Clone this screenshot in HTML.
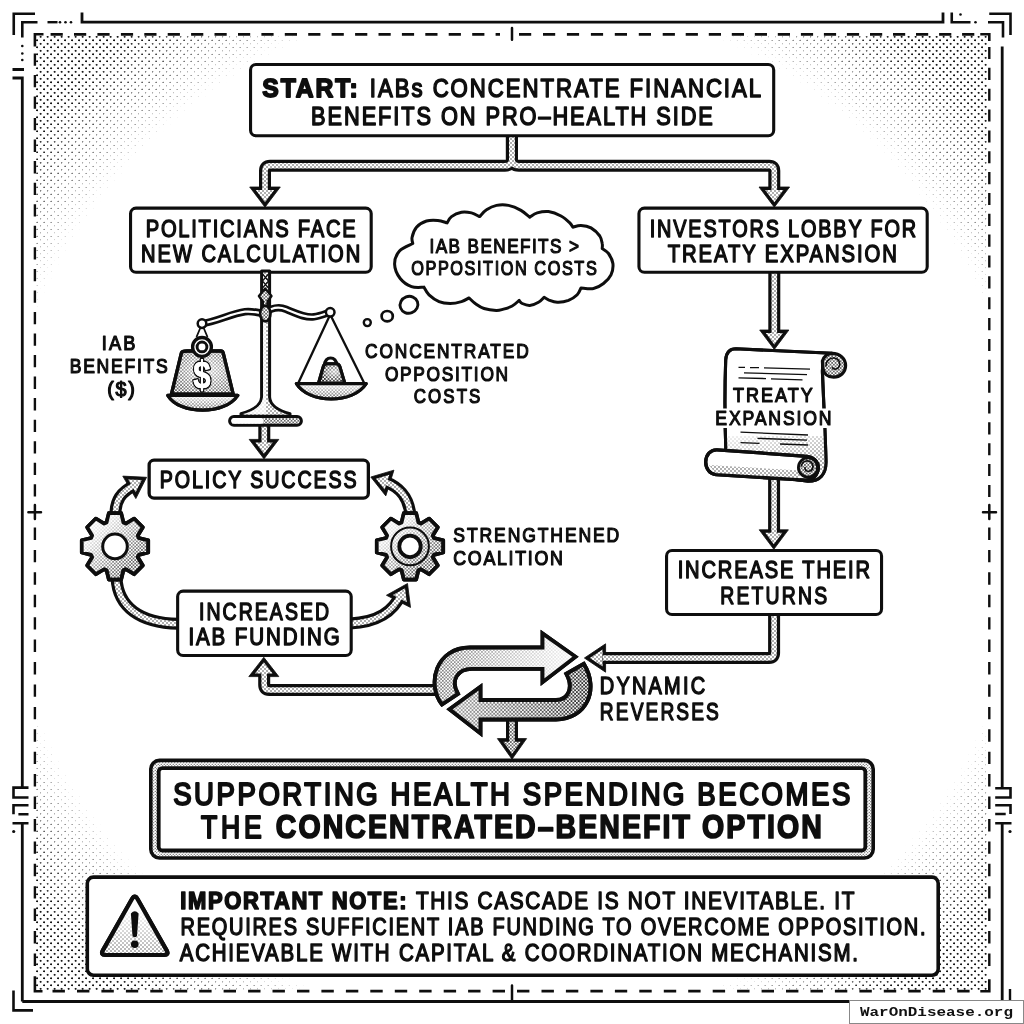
<!DOCTYPE html>
<html><head><meta charset="utf-8"><title>IAB cascade</title>
<style>html,body{margin:0;padding:0;background:#fff;}svg{display:block;}</style></head>
<body>
<svg width="1024" height="1024" viewBox="0 0 1024 1024">
<rect width="1024" height="1024" fill="#fff"/>
<defs>
<radialGradient id="wgl" cx="0.55" cy="0.45" r="0.6"><stop offset="0" stop-color="#fff" stop-opacity="0.75"/><stop offset="1" stop-color="#fff" stop-opacity="0"/></radialGradient>
<radialGradient id="wgr" cx="0.6" cy="0.4" r="0.6"><stop offset="0" stop-color="#fff" stop-opacity="0.75"/><stop offset="1" stop-color="#fff" stop-opacity="0"/></radialGradient>
<linearGradient id="sfade" x1="0" y1="0" x2="0.4" y2="1"><stop offset="0" stop-color="#fff" stop-opacity="1"/><stop offset="1" stop-color="#fff" stop-opacity="0"/></linearGradient>
<linearGradient id="tfade" x1="0" y1="0" x2="0" y2="1"><stop offset="0.2" stop-color="#fff" stop-opacity="1"/><stop offset="1" stop-color="#fff" stop-opacity="0"/></linearGradient>
</defs>

<defs>
<radialGradient id="cone"><stop offset="0" stop-color="#111" stop-opacity="1"/><stop offset="1" stop-color="#111" stop-opacity="0"/></radialGradient>
<pattern id="ht" width="7" height="7" patternUnits="userSpaceOnUse" patternTransform="translate(5.6,1.8)">
  <circle cx="0" cy="0" r="2.45" fill="url(#cone)"/><circle cx="7" cy="0" r="2.45" fill="url(#cone)"/><circle cx="0" cy="7" r="2.45" fill="url(#cone)"/><circle cx="7" cy="7" r="2.45" fill="url(#cone)"/><circle cx="3.5" cy="3.5" r="2.45" fill="url(#cone)"/>
</pattern>
<filter id="thr" filterUnits="userSpaceOnUse" x="0" y="0" width="1024" height="1024" color-interpolation-filters="sRGB">
  <feComponentTransfer><feFuncA type="linear" slope="3.2" intercept="-1.3"/></feComponentTransfer>
</filter>
<radialGradient id="vg" gradientUnits="userSpaceOnUse" cx="512" cy="512" r="680">
  <stop offset="0" stop-color="#000"/><stop offset="0.745" stop-color="#000"/><stop offset="0.746" stop-color="#707070"/><stop offset="0.765" stop-color="#929292"/><stop offset="0.785" stop-color="#a8a8a8"/><stop offset="0.822" stop-color="#c2c2c2"/><stop offset="0.869" stop-color="#e4e4e4"/><stop offset="0.905" stop-color="#fff"/><stop offset="1" stop-color="#fff"/>
</radialGradient>
<mask id="vm" maskUnits="userSpaceOnUse" x="0" y="0" width="1024" height="1024"><rect x="36" y="35.5" width="952.3" height="954.7" fill="url(#vg)"/></mask>
<pattern id="pl" width="4" height="4" patternUnits="userSpaceOnUse">
  <rect width="4" height="4" fill="#fff"/><circle cx="1" cy="1" r="0.68" fill="#222"/><circle cx="3" cy="3" r="0.68" fill="#222"/>
</pattern>
<pattern id="pm" width="3.4" height="3.4" patternUnits="userSpaceOnUse">
  <rect width="3.4" height="3.4" fill="#fff"/><circle cx="0.85" cy="0.85" r="0.75" fill="#1a1a1a"/><circle cx="2.55" cy="2.55" r="0.75" fill="#1a1a1a"/>
</pattern>
<pattern id="pd" width="3.6" height="3.6" patternUnits="userSpaceOnUse">
  <rect width="3.6" height="3.6" fill="#fff"/><circle cx="0.9" cy="0.9" r="1.05" fill="#151515"/><circle cx="2.7" cy="2.7" r="1.05" fill="#151515"/>
</pattern>
<pattern id="pb" width="3" height="3" patternUnits="userSpaceOnUse">
  <rect width="3" height="3" fill="#fff"/><circle cx="0.75" cy="0.75" r="0.6" fill="#333"/><circle cx="2.25" cy="2.25" r="0.6" fill="#333"/>
</pattern>
<linearGradient id="ufade" gradientUnits="userSpaceOnUse" x1="434" y1="0" x2="578" y2="0"><stop offset="0" stop-color="#fff" stop-opacity="0.15"/><stop offset="0.45" stop-color="#fff" stop-opacity="0.55"/><stop offset="1" stop-color="#fff" stop-opacity="0.95"/></linearGradient>
<linearGradient id="lfade" gradientUnits="userSpaceOnUse" x1="448" y1="0" x2="592" y2="0"><stop offset="0" stop-color="#fff" stop-opacity="0.6"/><stop offset="0.6" stop-color="#fff" stop-opacity="0.3"/><stop offset="1" stop-color="#fff" stop-opacity="0.05"/></linearGradient>
<linearGradient id="gfade" x1="0" y1="0" x2="1" y2="1"><stop offset="0" stop-color="#fff" stop-opacity="1"/><stop offset="0.25" stop-color="#fff" stop-opacity="0.85"/><stop offset="0.75" stop-color="#fff" stop-opacity="0"/></linearGradient>
<linearGradient id="vfade" x1="0" y1="0" x2="0" y2="1"><stop offset="0" stop-color="#fff" stop-opacity="0.9"/><stop offset="1" stop-color="#fff" stop-opacity="0"/></linearGradient>
</defs>

<g filter="url(#thr)"><rect x="36" y="35.5" width="952.3" height="954.7" fill="url(#ht)" mask="url(#vm)"/></g>
<path d="M82 12.5 V22.2 H943 V12.5 M22.3 1001.5 V823.3 M22.3 787.5 V78 H12.5 M12.5 69.5 H24 M22.3 1001.5 H850 M1002.2 1000 V823.3 M1002.2 787.5 V46.5" stroke="#0e0e0e" fill="none" stroke-width="2.8"/>
<path d="M35 13.75 H13.75 V35 M37.5 22.2 H22.3 V37.5" stroke="#0e0e0e" fill="none" stroke-width="2.6"/>
<path d="M47.5 22.2 H57.5" stroke="#0e0e0e" fill="none" stroke-width="2.4"/>
<circle cx="60" cy="22.2" r="1.3" fill="#0e0e0e"/>
<circle cx="65.5" cy="22.2" r="1.3" fill="#0e0e0e"/>
<circle cx="71" cy="22.2" r="1.3" fill="#0e0e0e"/>
<circle cx="22.3" cy="46" r="1.3" fill="#0e0e0e"/>
<circle cx="22.3" cy="53.5" r="1.3" fill="#0e0e0e"/>
<circle cx="22.3" cy="60" r="1.3" fill="#0e0e0e"/>
<path d="M951.75 12.5 V22.2 H970.5 M988 22.2 H1003.0 V37.5 M989.25 13.75 H1010.5 V35" stroke="#0e0e0e" fill="none" stroke-width="2.6"/>
<circle cx="960.5" cy="14.5" r="1.3" fill="#0e0e0e"/><circle cx="975.5" cy="22.2" r="1.3" fill="#0e0e0e"/>
<path d="M13.5 990.4 V1010.4 H33" stroke="#0e0e0e" fill="none" stroke-width="2.6"/>
<path d="M1010 989 V1001" stroke="#0e0e0e" fill="none" stroke-width="2.4"/>
<path d="M28.5 787.6 H13.5 V797.5 H28.5 M28.5 805.3 H13.5 V814.3 M18.4 814.3 H28.5 M12.5 823.3 H28.5" stroke="#0e0e0e" fill="none" stroke-width="2.6"/>
<circle cx="13.7" cy="831.5" r="1.6" fill="#0e0e0e"/>
<path d="M995.2 788.2 H1010.5 V797.5 H995.2 M995.2 805.3 H1010.5 V814 M995.2 814 H1005.7 M995.2 823.3 H1011.5" stroke="#0e0e0e" fill="none" stroke-width="2.6"/>
<circle cx="1010" cy="831.5" r="1.6" fill="#0e0e0e"/>
<path d="M50.6 34.3 H62.8 M74.0 34.3 H86.2 M97.4 34.3 H109.6 M120.9 34.3 H133.1 M144.3 34.3 H156.5 M167.7 34.3 H179.9 M191.1 34.3 H203.3 M214.5 34.3 H226.7 M238.0 34.3 H250.2 M261.4 34.3 H273.6 M284.8 34.3 H297.0 M308.2 34.3 H320.4 M331.6 34.3 H343.8 M355.1 34.3 H367.3 M378.5 34.3 H390.7 M401.9 34.3 H414.1 M425.3 34.3 H437.5 M448.7 34.3 H460.9 M472.2 34.3 H484.4 M495.6 34.3 H500.0" stroke="#0e0e0e" fill="none" stroke-width="2.8"/>
<path d="M519.0 34.3 H531.2 M543.0 34.3 H555.2 M566.9 34.3 H579.1 M590.9 34.3 H603.1 M614.8 34.3 H627.0 M638.8 34.3 H651.0" stroke="#0e0e0e" fill="none" stroke-width="2.8"/>
<path d="M662.7 34.3 H674.9 M685.7 34.3 H697.9 M708.8 34.3 H721.0 M731.8 34.3 H744.0 M754.8 34.3 H767.0 M777.8 34.3 H790.0 M800.9 34.3 H813.1 M823.9 34.3 H836.1 M846.9 34.3 H859.1 M870.0 34.3 H882.2 M893.0 34.3 H905.2 M916.0 34.3 H928.2 M939.1 34.3 H951.3 M962.1 34.3 H974.3" stroke="#0e0e0e" fill="none" stroke-width="2.8"/>
<path d="M52.5 991.2 H64.9 M77.0 991.2 H89.4 M101.4 991.2 H113.8 M125.9 991.2 H138.2 M150.3 991.2 H162.7 M174.8 991.2 H187.2 M199.2 991.2 H211.6 M223.6 991.2 H236.0 M248.1 991.2 H260.5 M272.5 991.2 H284.9 M297.0 991.2 H309.4 M321.4 991.2 H333.8 M345.9 991.2 H358.3 M370.3 991.2 H382.7 M394.8 991.2 H407.2 M419.2 991.2 H431.6 M443.7 991.2 H456.1 M468.1 991.2 H480.5 M492.6 991.2 H505.0 M517.0 991.2 H529.4 M541.5 991.2 H553.9 M565.9 991.2 H578.3 M590.4 991.2 H602.8 M614.9 991.2 H627.2 M639.3 991.2 H651.7 M663.8 991.2 H676.2 M688.2 991.2 H700.6 M712.7 991.2 H725.1 M737.1 991.2 H749.5 M761.6 991.2 H774.0 M786.0 991.2 H798.4 M810.5 991.2 H822.9 M834.9 991.2 H847.3 M859.4 991.2 H871.8 M883.8 991.2 H896.2 M908.3 991.2 H920.7 M932.7 991.2 H945.1 M957.2 991.2 H969.6" stroke="#0e0e0e" fill="none" stroke-width="2.8"/>
<path d="M34.9 53.4 V65.7 M34.9 74.9 V87.2 M34.9 96.5 V108.8 M34.9 118.0 V130.3 M34.9 139.6 V151.9 M34.9 161.1 V173.4 M34.9 182.7 V195.0 M34.9 204.2 V216.5 M34.9 225.8 V238.1 M34.9 247.3 V259.6 M34.9 268.9 V281.2 M34.9 290.4 V302.7 M34.9 311.9 V324.2 M34.9 333.5 V345.8 M34.9 355.0 V367.3 M34.9 376.6 V388.9 M34.9 398.1 V410.4 M34.9 419.7 V432.0 M34.9 441.2 V453.5 M34.9 462.8 V475.1 M34.9 484.3 V496.6" stroke="#0e0e0e" fill="none" stroke-width="2.4"/>
<path d="M989.3 47.0 V59.1 M989.3 67.8 V79.9 M989.3 88.7 V100.8 M989.3 109.5 V121.6 M989.3 130.4 V142.5 M989.3 151.2 V163.3 M989.3 172.1 V184.2 M989.3 192.9 V205.0 M989.3 213.8 V225.9 M989.3 234.6 V246.7 M989.3 255.5 V267.6 M989.3 276.3 V288.4 M989.3 297.2 V309.3 M989.3 318.1 V330.2 M989.3 338.9 V351.0 M989.3 359.8 V371.9 M989.3 380.6 V392.7 M989.3 401.5 V413.6 M989.3 422.3 V434.4 M989.3 443.2 V455.3 M989.3 464.0 V476.1 M989.3 484.9 V497.0" stroke="#0e0e0e" fill="none" stroke-width="2.4"/>
<path d="M34.9 527.5 V539.9 M34.9 549.9 V562.3 M34.9 572.3 V584.7 M34.9 594.8 V607.2 M34.9 617.2 V629.6 M34.9 639.6 V652.0 M34.9 662.0 V674.4 M34.9 684.4 V696.8 M34.9 706.9 V719.3 M34.9 729.3 V741.7 M34.9 751.7 V764.1 M34.9 774.1 V786.5 M34.9 796.5 V808.9 M34.9 819.0 V831.4 M34.9 841.4 V853.8 M34.9 863.8 V876.2 M34.9 886.2 V898.6 M34.9 908.6 V921.0 M34.9 931.1 V943.5 M34.9 953.5 V965.9" stroke="#0e0e0e" fill="none" stroke-width="2.4"/>
<path d="M989.3 527.5 V539.9 M989.3 549.9 V562.3 M989.3 572.3 V584.7 M989.3 594.8 V607.2 M989.3 617.2 V629.6 M989.3 639.6 V652.0 M989.3 662.0 V674.4 M989.3 684.4 V696.8 M989.3 706.9 V719.3 M989.3 729.3 V741.7 M989.3 751.7 V764.1 M989.3 774.1 V786.5 M989.3 796.5 V808.9 M989.3 819.0 V831.4 M989.3 841.4 V853.8 M989.3 863.8 V876.2 M989.3 886.2 V898.6 M989.3 908.6 V921.0 M989.3 931.1 V943.5 M989.3 953.5 V965.9" stroke="#0e0e0e" fill="none" stroke-width="2.4"/>
<path d="M34.9 46.5 V34.3 H43.5 M980.3 34.3 H989.3 V41 M34.9 976.2 V991.2 H42.5 M980.3 991.2 H989.3 V979.2" stroke="#0e0e0e" fill="none" stroke-width="2.6"/>
<path d="M512 28 V39.75 M512 985.5 V1000 M34.9 505 V519 M28.4 512.2 H41 M989.3 505 V519 M983 512.2 H996" stroke="#0e0e0e" fill="none" stroke-width="2.5" stroke-linecap="round"/>
<path d="M511.9 134 V158.8 Q511.9 165.8 504.9 165.8 H270 Q265 165.8 265 170.8 V193.5" fill="none" stroke="#0e0e0e" stroke-width="12" stroke-linejoin="round" stroke-linecap="butt"/>
<path d="M511.9 134 V158.8 Q511.9 165.8 518.9 165.8 H769.3 Q774.3 165.8 774.3 170.8 V193.5" fill="none" stroke="#0e0e0e" stroke-width="12" stroke-linejoin="round" stroke-linecap="butt"/>
<polygon points="265.00,207.20 249.70,187.00 280.30,187.00" fill="#0e0e0e" stroke="#0e0e0e" stroke-width="0.8" stroke-linejoin="round"/>
<polygon points="774.30,207.20 759.00,187.00 789.60,187.00" fill="#0e0e0e" stroke="#0e0e0e" stroke-width="0.8" stroke-linejoin="round"/>
<path d="M264.3 422 V446" fill="none" stroke="#0e0e0e" stroke-width="12" stroke-linejoin="round" stroke-linecap="butt"/>
<polygon points="264.00,458.90 249.20,439.40 278.80,439.40" fill="#0e0e0e" stroke="#0e0e0e" stroke-width="0.8" stroke-linejoin="round"/>
<path d="M774.3 270 V337" fill="none" stroke="#0e0e0e" stroke-width="12" stroke-linejoin="round" stroke-linecap="butt"/>
<polygon points="774.30,349.50 759.70,330.00 788.90,330.00" fill="#0e0e0e" stroke="#0e0e0e" stroke-width="0.8" stroke-linejoin="round"/>
<path d="M774.1 478 V536.5" fill="none" stroke="#0e0e0e" stroke-width="12" stroke-linejoin="round" stroke-linecap="butt"/>
<polygon points="773.80,549.30 759.20,529.80 788.40,529.80" fill="#0e0e0e" stroke="#0e0e0e" stroke-width="0.8" stroke-linejoin="round"/>
<path d="M774.1 612 V653 Q774.1 658 769.1 658 H603" fill="none" stroke="#0e0e0e" stroke-width="12" stroke-linejoin="round" stroke-linecap="butt"/>
<polygon points="584.40,658.00 605.60,643.80 605.60,672.20" fill="#0e0e0e" stroke="#0e0e0e" stroke-width="0.8" stroke-linejoin="round"/>
<path d="M445 690 H269.2 Q264.2 690 264.2 685 V669.5" fill="none" stroke="#0e0e0e" stroke-width="12" stroke-linejoin="round" stroke-linecap="butt"/>
<polygon points="263.80,657.30 278.80,676.60 248.80,676.60" fill="#0e0e0e" stroke="#0e0e0e" stroke-width="0.8" stroke-linejoin="round"/>
<path d="M512 715 V745.5" fill="none" stroke="#0e0e0e" stroke-width="12" stroke-linejoin="round" stroke-linecap="butt"/>
<polygon points="512.00,759.20 497.40,738.60 526.60,738.60" fill="#0e0e0e" stroke="#0e0e0e" stroke-width="0.8" stroke-linejoin="round"/>
<path d="M115.5 516 C115 500 121 492 134.5 485.3" fill="none" stroke="#0e0e0e" stroke-width="12" stroke-linejoin="round" stroke-linecap="butt"/>
<polygon points="146.60,477.30 135.84,498.59 122.78,476.11" fill="#0e0e0e" stroke="#0e0e0e" stroke-width="0.8" stroke-linejoin="round"/>
<path d="M178 623.8 C140 623 118 607 116.5 578" fill="none" stroke="#0e0e0e" stroke-width="12" stroke-linejoin="round" stroke-linecap="butt"/>
<path d="M410.5 516 C409 498 401 488 385.5 481.8" fill="none" stroke="#0e0e0e" stroke-width="12" stroke-linejoin="round" stroke-linecap="butt"/>
<polygon points="370.80,477.00 393.94,470.15 385.81,495.90" fill="#0e0e0e" stroke="#0e0e0e" stroke-width="0.8" stroke-linejoin="round"/>
<path d="M350 623.6 C378 622 393 612 400.8 594.5" fill="none" stroke="#0e0e0e" stroke-width="12" stroke-linejoin="round" stroke-linecap="butt"/>
<polygon points="407.50,583.50 410.52,607.44 386.43,595.26" fill="#0e0e0e" stroke="#0e0e0e" stroke-width="0.8" stroke-linejoin="round"/>
<path d="M511.9 134 V158.8 Q511.9 165.8 504.9 165.8 H270 Q265 165.8 265 170.8 V193.5" fill="none" stroke="url(#pl)" stroke-width="5.6" stroke-linejoin="round" stroke-linecap="butt"/>
<path d="M511.9 134 V158.8 Q511.9 165.8 518.9 165.8 H769.3 Q774.3 165.8 774.3 170.8 V193.5" fill="none" stroke="url(#pl)" stroke-width="5.6" stroke-linejoin="round" stroke-linecap="butt"/>
<polygon points="265.00,202.17 255.82,190.04 274.18,190.04" fill="url(#pl)"/>
<polygon points="774.30,202.17 765.12,190.04 783.48,190.04" fill="url(#pl)"/>
<path d="M264.3 422 V446" fill="none" stroke="url(#pl)" stroke-width="5.6" stroke-linejoin="round" stroke-linecap="butt"/>
<polygon points="264.00,453.87 255.32,442.44 272.68,442.44" fill="url(#pl)"/>
<path d="M774.3 270 V337" fill="none" stroke="url(#pl)" stroke-width="5.6" stroke-linejoin="round" stroke-linecap="butt"/>
<polygon points="774.30,344.43 765.77,333.04 782.83,333.04" fill="url(#pl)"/>
<path d="M774.1 478 V536.5" fill="none" stroke="url(#pl)" stroke-width="5.6" stroke-linejoin="round" stroke-linecap="butt"/>
<polygon points="773.80,544.23 765.27,532.84 782.33,532.84" fill="url(#pl)"/>
<path d="M774.1 612 V653 Q774.1 658 769.1 658 H603" fill="none" stroke="url(#pl)" stroke-width="5.6" stroke-linejoin="round" stroke-linecap="butt"/>
<polygon points="589.86,658.00 602.56,649.50 602.56,666.50" fill="url(#pl)"/>
<path d="M445 690 H269.2 Q264.2 690 264.2 685 V669.5" fill="none" stroke="url(#pl)" stroke-width="5.6" stroke-linejoin="round" stroke-linecap="butt"/>
<polygon points="263.80,662.25 272.59,673.56 255.01,673.56" fill="url(#pl)"/>
<path d="M512 715 V745.5" fill="none" stroke="url(#pm)" stroke-width="5.6" stroke-linejoin="round" stroke-linecap="butt"/>
<polygon points="512.00,753.94 503.28,741.64 520.72,741.64" fill="url(#pm)"/>
<path d="M115.5 516 C115 500 121 492 134.5 485.3" fill="none" stroke="url(#pl)" stroke-width="5.6" stroke-linejoin="round" stroke-linecap="butt"/>
<polygon points="141.78,480.10 135.66,492.22 128.22,479.43" fill="url(#pl)"/>
<path d="M178 623.8 C140 623 118 607 116.5 578" fill="none" stroke="url(#pl)" stroke-width="5.6" stroke-linejoin="round" stroke-linecap="butt"/>
<path d="M410.5 516 C409 498 401 488 385.5 481.8" fill="none" stroke="url(#pl)" stroke-width="5.6" stroke-linejoin="round" stroke-linecap="butt"/>
<polygon points="375.98,478.64 389.32,474.69 384.63,489.53" fill="url(#pl)"/>
<path d="M350 623.6 C378 622 393 612 400.8 594.5" fill="none" stroke="url(#pl)" stroke-width="5.6" stroke-linejoin="round" stroke-linecap="butt"/>
<polygon points="405.05,588.35 406.79,602.15 392.90,595.12" fill="url(#pl)"/>
<path d="M575.5 656.8 L542.5 682.2 V668.8 H472 C458 668.8 450 680 458 693.8 L442 704.5 C426 684 436 647.5 470 647.5 H542.5 V633.4 Z" fill="url(#pm)" stroke="#0e0e0e" stroke-width="3.8" stroke-linejoin="miter"/>
<path d="M575.5 656.8 L542.5 682.2 V668.8 H472 C458 668.8 450 680 458 693.8 L442 704.5 C426 684 436 647.5 470 647.5 H542.5 V633.4 Z" fill="url(#ufade)"/>
<path d="M575.5 656.8 L542.5 682.2 V668.8 H472 C458 668.8 450 680 458 693.8 L442 704.5 C426 684 436 647.5 470 647.5 H542.5 V633.4 Z" fill="none" stroke="#0e0e0e" stroke-width="3.8" stroke-linejoin="miter"/>
<path d="M449.5 709.2 L480.5 686.8 V700 H556 C568 700 574 688 566.3 673.8 L583.8 663.8 C600 690 586 719.5 556 719.5 H480.5 V733.4 Z" fill="url(#pd)" stroke="#0e0e0e" stroke-width="3.8" stroke-linejoin="miter"/>
<path d="M449.5 709.2 L480.5 686.8 V700 H556 C568 700 574 688 566.3 673.8 L583.8 663.8 C600 690 586 719.5 556 719.5 H480.5 V733.4 Z" fill="url(#lfade)"/>
<path d="M449.5 709.2 L480.5 686.8 V700 H556 C568 700 574 688 566.3 673.8 L583.8 663.8 C600 690 586 719.5 556 719.5 H480.5 V733.4 Z" fill="none" stroke="#0e0e0e" stroke-width="3.8" stroke-linejoin="miter"/>
<polygon points="106.55,522.55 108.84,513.17 121.16,513.17 123.45,522.55 125.89,523.56 134.14,518.54 142.86,527.26 137.84,535.51 138.85,537.95 148.23,540.24 148.23,552.56 138.85,554.85 137.84,557.29 142.86,565.54 134.14,574.26 125.89,569.24 123.45,570.25 121.16,579.63 108.84,579.63 106.55,570.25 104.11,569.24 95.86,574.26 87.14,565.54 92.16,557.29 91.15,554.85 81.77,552.56 81.77,540.24 91.15,537.95 92.16,535.51 87.14,527.26 95.86,518.54 104.11,523.56" fill="url(#pm)" stroke="#0e0e0e" stroke-width="3.7" stroke-linejoin="round"/>
<polygon points="106.55,522.55 108.84,513.17 121.16,513.17 123.45,522.55 125.89,523.56 134.14,518.54 142.86,527.26 137.84,535.51 138.85,537.95 148.23,540.24 148.23,552.56 138.85,554.85 137.84,557.29 142.86,565.54 134.14,574.26 125.89,569.24 123.45,570.25 121.16,579.63 108.84,579.63 106.55,570.25 104.11,569.24 95.86,574.26 87.14,565.54 92.16,557.29 91.15,554.85 81.77,552.56 81.77,540.24 91.15,537.95 92.16,535.51 87.14,527.26 95.86,518.54 104.11,523.56" fill="url(#gfade)" />
<polygon points="106.55,522.55 108.84,513.17 121.16,513.17 123.45,522.55 125.89,523.56 134.14,518.54 142.86,527.26 137.84,535.51 138.85,537.95 148.23,540.24 148.23,552.56 138.85,554.85 137.84,557.29 142.86,565.54 134.14,574.26 125.89,569.24 123.45,570.25 121.16,579.63 108.84,579.63 106.55,570.25 104.11,569.24 95.86,574.26 87.14,565.54 92.16,557.29 91.15,554.85 81.77,552.56 81.77,540.24 91.15,537.95 92.16,535.51 87.14,527.26 95.86,518.54 104.11,523.56" fill="none" stroke="#0e0e0e" stroke-width="3.7" stroke-linejoin="round"/>
<polygon points="401.55,522.55 403.84,513.17 416.16,513.17 418.45,522.55 420.89,523.56 429.14,518.54 437.86,527.26 432.84,535.51 433.85,537.95 443.23,540.24 443.23,552.56 433.85,554.85 432.84,557.29 437.86,565.54 429.14,574.26 420.89,569.24 418.45,570.25 416.16,579.63 403.84,579.63 401.55,570.25 399.11,569.24 390.86,574.26 382.14,565.54 387.16,557.29 386.15,554.85 376.77,552.56 376.77,540.24 386.15,537.95 387.16,535.51 382.14,527.26 390.86,518.54 399.11,523.56" fill="url(#pm)" stroke="#0e0e0e" stroke-width="3.7" stroke-linejoin="round"/>
<polygon points="401.55,522.55 403.84,513.17 416.16,513.17 418.45,522.55 420.89,523.56 429.14,518.54 437.86,527.26 432.84,535.51 433.85,537.95 443.23,540.24 443.23,552.56 433.85,554.85 432.84,557.29 437.86,565.54 429.14,574.26 420.89,569.24 418.45,570.25 416.16,579.63 403.84,579.63 401.55,570.25 399.11,569.24 390.86,574.26 382.14,565.54 387.16,557.29 386.15,554.85 376.77,552.56 376.77,540.24 386.15,537.95 387.16,535.51 382.14,527.26 390.86,518.54 399.11,523.56" fill="url(#gfade)" />
<polygon points="401.55,522.55 403.84,513.17 416.16,513.17 418.45,522.55 420.89,523.56 429.14,518.54 437.86,527.26 432.84,535.51 433.85,537.95 443.23,540.24 443.23,552.56 433.85,554.85 432.84,557.29 437.86,565.54 429.14,574.26 420.89,569.24 418.45,570.25 416.16,579.63 403.84,579.63 401.55,570.25 399.11,569.24 390.86,574.26 382.14,565.54 387.16,557.29 386.15,554.85 376.77,552.56 376.77,540.24 386.15,537.95 387.16,535.51 382.14,527.26 390.86,518.54 399.11,523.56" fill="none" stroke="#0e0e0e" stroke-width="3.7" stroke-linejoin="round"/>
<circle cx="115" cy="546.4" r="12.3" fill="#fff" stroke="#0e0e0e" stroke-width="3"/>
<circle cx="410" cy="546.4" r="18.9" fill="none" stroke="#0e0e0e" stroke-width="2"/>
<circle cx="410" cy="546.4" r="10.7" fill="#fff" stroke="#0e0e0e" stroke-width="3.8"/>
<rect x="250.55" y="64.45" width="523.15" height="71.25" rx="5.45" fill="#fff" stroke="#0e0e0e" stroke-width="3.1"/>
<rect x="130.55" y="208.15" width="240.65" height="64.05" rx="5.45" fill="#fff" stroke="#0e0e0e" stroke-width="3.1"/>
<rect x="638.95" y="208.15" width="288.25" height="64.05" rx="5.45" fill="#fff" stroke="#0e0e0e" stroke-width="3.1"/>
<rect x="149.15" y="460.15" width="219.20" height="37.95" rx="4.85" fill="#fff" stroke="#0e0e0e" stroke-width="3.3"/>
<rect x="177.65" y="591.15" width="173.55" height="64.40" rx="5.45" fill="#fff" stroke="#0e0e0e" stroke-width="3.1"/>
<rect x="666.55" y="550.55" width="215.00" height="63.90" rx="5.45" fill="#fff" stroke="#0e0e0e" stroke-width="3.1"/>
<rect x="150.80" y="760.40" width="722.40" height="97.60" rx="8.70" fill="url(#pb)" stroke="#0e0e0e" stroke-width="3.6"/>
<rect x="158.70" y="768.10" width="706.60" height="82.40" rx="3.60" fill="#fff" stroke="#0e0e0e" stroke-width="3.8"/>
<rect x="87.30" y="877.10" width="850.90" height="98.10" rx="6.20" fill="#fff" stroke="#0e0e0e" stroke-width="3.6"/>
<path d="M424 287.25 C421.9 287.1 415.5 288.1 411.5 286.6 C407.5 285.1 403.1 282.2 400.2 278.5 C397.4 274.8 394.7 268.7 394.6 264.1 C394.5 259.5 396.5 254.4 399.5 251.0 C402.5 247.6 410.5 244.8 412.8 243.5 C412.6 242.5 411.5 240.0 412.1 237.2 C412.7 234.5 414.1 230.0 416.5 227.2 C418.9 224.5 423.0 222.1 426.5 221.0 C430.0 219.9 434.3 220.1 437.8 220.4 C441.2 220.7 445.5 222.5 447.1 222.9 C447.8 221.8 449.1 218.4 451.5 216.6 C453.9 214.8 458.2 212.9 461.5 212.2 C464.8 211.6 468.5 212.2 471.5 212.9 C474.5 213.6 478.2 216.0 479.6 216.6 C480.8 215.5 483.7 211.6 486.5 209.8 C489.3 207.9 492.8 206.1 496.5 205.4 C500.2 204.7 504.4 204.6 508.5 205.4 C512.6 206.2 517.5 208.4 521.0 210.4 C524.5 212.4 528.3 216.1 529.8 217.2 C531.0 216.5 534.1 213.8 537.2 212.9 C540.4 212.0 544.5 211.1 548.5 211.6 C552.5 212.1 557.5 214.1 561.0 216.0 C564.5 217.9 567.8 221.0 569.8 222.9 C571.7 224.8 572.4 226.5 572.9 227.2 C574.2 226.9 578.0 225.3 581.0 225.4 C584.0 225.5 587.9 226.1 591.0 227.9 C594.1 229.7 597.9 233.4 599.8 236.0 C601.6 238.6 601.8 241.4 602.2 243.5 C602.7 245.6 602.2 247.7 602.2 248.5 C603.3 249.3 606.7 251.0 608.5 253.5 C610.3 256.0 612.5 260.0 612.9 263.5 C613.3 267.0 612.6 271.4 611.0 274.8 C609.4 278.1 606.4 281.2 603.5 283.5 C600.6 285.8 597.2 287.8 593.5 288.5 C589.8 289.2 583.1 288.0 581.0 287.9 C580.4 289.0 579.3 292.7 577.2 294.8 C575.2 296.8 571.8 299.1 568.5 300.4 C565.2 301.6 560.6 302.4 557.2 302.2 C553.9 302.1 550.7 300.6 548.5 299.8 C546.3 298.9 544.8 297.7 544.1 297.2 C543.2 298.1 540.9 300.9 538.5 302.2 C536.1 303.6 532.5 305.2 529.8 305.4 C527.0 305.6 524.0 304.3 522.2 303.5 C520.5 302.7 519.6 300.9 519.1 300.4 C518.0 301.3 514.9 304.6 512.2 306.0 C509.6 307.4 506.2 308.4 503.5 309.1 C500.8 309.8 499.6 310.5 496.3 310.4 C493.1 310.3 487.5 309.6 484.0 308.5 C480.5 307.4 477.8 305.3 475.2 303.5 C472.8 301.7 470.0 298.8 469.0 297.9 C467.8 298.5 464.6 300.7 461.5 301.6 C458.4 302.5 454.0 303.5 450.2 303.5 C446.5 303.5 442.5 303.1 439.0 301.6 C435.5 300.1 431.5 297.1 429.0 294.8 C426.5 292.4 424.8 288.5 424.0 287.2 Z" fill="#fff" stroke="#0e0e0e" stroke-width="3" stroke-linejoin="round"/>
<ellipse cx="409" cy="304.8" rx="9" ry="8.4" fill="#fff" stroke="#0e0e0e" stroke-width="2.9" transform="rotate(-20 409 304.8)"/>
<ellipse cx="387.2" cy="316.2" rx="5.6" ry="5.2" fill="#fff" stroke="#0e0e0e" stroke-width="2.7"/>
<circle cx="367.3" cy="322.6" r="3.5" fill="#fff" stroke="#0e0e0e" stroke-width="2.4"/>
<path d="M261.6 271 V397 C261 406 251 411 241 413.6 V416.3 H290 V413.6 C280 411 270 406 269.6 397 V271 Z" fill="url(#pl)" stroke="#0e0e0e" stroke-width="3.0" stroke-linejoin="round"/>
<path d="M263 275 V397 C262.4 407 252 411.5 243 414 H266 V275 Z" fill="#fff" opacity="0.8"/>
<rect x="229.6" y="416.6" width="71.8" height="8.6" rx="4.3" fill="url(#pm)" stroke="#0e0e0e" stroke-width="3.0"/>
<rect x="231.5" y="418.1" width="32" height="5.6" rx="2.6" fill="#fff"/>
<path d="M262.5 274 L268.5 281 M268.5 274 L262.5 281 M262.5 281 L268.5 288 M268.5 281 L262.5 288" stroke="#0e0e0e" stroke-width="1.2" fill="none"/>
<path d="M202 323.4 C216 322 231 313.5 245 311.7 C253 310.8 259 313 265 314" fill="none" stroke="#0e0e0e" stroke-width="7.6" stroke-linecap="round"/>
<path d="M265 313 C271 308 279 306.5 286 309.3 C296 313.2 305 318 314 316.8 C320 316 325 313.8 330 312.2" fill="none" stroke="#0e0e0e" stroke-width="7.6" stroke-linecap="round"/>
<path d="M202 323.4 C216 322 231 313.5 245 311.7 C253 310.8 259 313 265 314" fill="none" stroke="#fff" stroke-width="2.2" stroke-linecap="round"/>
<path d="M265 313 C271 308 279 306.5 286 309.3 C296 313.2 305 318 314 316.8 C320 316 325 313.8 330 312.2" fill="none" stroke="#fff" stroke-width="2.2" stroke-linecap="round"/>
<path d="M265.2 288.5 L271.5 296 L267.6 301.5 V306 H262.8 V301.5 L258.9 296 Z" fill="url(#pm)" stroke="#0e0e0e" stroke-width="2.4" stroke-linejoin="round"/>
<ellipse cx="265.3" cy="313.6" rx="5.2" ry="7.8" fill="url(#pm)" stroke="#0e0e0e" stroke-width="2.6"/>
<circle cx="202" cy="323.6" r="4.3" fill="#fff" stroke="#0e0e0e" stroke-width="2.5"/>
<circle cx="330.2" cy="312.3" r="4.3" fill="#fff" stroke="#0e0e0e" stroke-width="2.5"/>
<path d="M200.3 328 L196.5 337 M203.7 328 L207.5 337" stroke="#0e0e0e" stroke-width="1.8" fill="none"/>
<path d="M187 351 H220.8 Q222.6 351 223.2 353 L233.2 394.2 H171.4 L181.4 353 Q182 351 187 351 Z" fill="url(#pm)" stroke="#0e0e0e" stroke-width="3.3" stroke-linejoin="round"/>
<path d="M187 351 H220.8 Q222.6 351 223.2 353 L233.2 394.2 H171.4 L181.4 353 Q182 351 187 351 Z" fill="url(#wgl)"/>
<path d="M187 351 H220.8 Q222.6 351 223.2 353 L233.2 394.2 H171.4 L181.4 353 Q182 351 187 351 Z" fill="none" stroke="#0e0e0e" stroke-width="3.3" stroke-linejoin="round"/>
<circle cx="202" cy="346.9" r="9.4" fill="#fff" stroke="#0e0e0e" stroke-width="3.3"/>
<circle cx="202" cy="346.9" r="4.9" fill="#fff" stroke="#0e0e0e" stroke-width="2.9"/>
<text x="202" y="387.6" text-anchor="middle" font-family="'Liberation Sans', sans-serif" font-size="38" font-weight="bold" fill="#fff" stroke="#0e0e0e" stroke-width="3.6" stroke-linejoin="round" paint-order="stroke" transform="translate(202 0) scale(0.82 1) translate(-202 0)" style="opacity:0.999">$</text>
<text x="202" y="387.6" text-anchor="middle" font-family="'Liberation Sans', sans-serif" font-size="38" font-weight="bold" fill="#fff" stroke="#fff" stroke-width="0.5" transform="translate(202 0) scale(0.82 1) translate(-202 0)" style="opacity:0.999">$</text>
<path d="M167.8 395.3 H237.8 C231 405.5 217 410.2 202.7 410.2 C188 410.2 174 405.5 167.8 395.3 Z" fill="url(#pm)" stroke="#0e0e0e" stroke-width="3.3" stroke-linejoin="round"/>
<path d="M167.8 395.3 H237.8 C231 405.5 217 410.2 202.7 410.2 C188 410.2 174 405.5 167.8 395.3 Z" fill="url(#vfade)"/>
<path d="M167.8 395.3 H237.8 C231 405.5 217 410.2 202.7 410.2 C188 410.2 174 405.5 167.8 395.3 Z" fill="none" stroke="#0e0e0e" stroke-width="3.3" stroke-linejoin="round"/>
<path d="M329.3 316.5 L298.2 383.3 M331.2 316.5 L364.3 383.3" stroke="#0e0e0e" stroke-width="2.3" fill="none"/>
<path d="M324.6 365.5 C324.2 355.5 337 355.5 336.8 365.5" fill="#fff" stroke="#0e0e0e" stroke-width="3.2"/>
<path d="M318.5 383.3 L323.3 366.5 Q324 363.8 327 363.8 H336 Q339 363.8 339.8 366.5 L344.8 383.3 Z" fill="url(#pd)" stroke="#0e0e0e" stroke-width="3.1" stroke-linejoin="round"/>
<path d="M318.5 383.3 L323.3 366.5 Q324 363.8 327 363.8 H336 Q339 363.8 339.8 366.5 L344.8 383.3 Z" fill="url(#wgr)"/>
<path d="M318.5 383.3 L323.3 366.5 Q324 363.8 327 363.8 H336 Q339 363.8 339.8 366.5 L344.8 383.3 Z" fill="none" stroke="#0e0e0e" stroke-width="3.1" stroke-linejoin="round"/>
<path d="M296.4 383.6 H366.2 C359.5 393.8 346 399 331.2 399 C316.5 399 303 393.8 296.4 383.6 Z" fill="url(#pm)" stroke="#0e0e0e" stroke-width="3.2" stroke-linejoin="round"/>
<path d="M296.4 383.6 H366.2 C359.5 393.8 346 399 331.2 399 C316.5 399 303 393.8 296.4 383.6 Z" fill="url(#vfade)"/>
<path d="M296.4 383.6 H366.2 C359.5 393.8 346 399 331.2 399 C316.5 399 303 393.8 296.4 383.6 Z" fill="none" stroke="#0e0e0e" stroke-width="3.2" stroke-linejoin="round"/>
<path d="M726 454 C724.6 420 724.6 390 725.7 360 C726.2 352 730 348.8 736 348.8 L832 353.3 C823 356 821.8 365 822.6 376 C824 410 825.6 440 826 462 C826 474 820 481.2 808 481.2 L740 472 Z" fill="#fff" stroke="#0e0e0e" stroke-width="3.1" stroke-linejoin="round"/>
<path d="M727 436 H825 V470 L808 480 L727 470 Z" fill="url(#pl)"/>
<path d="M727 428 H826 V470 H727 Z" fill="url(#sfade)"/>
<path d="M726 454 C724.6 420 724.6 390 725.7 360 C726.2 352 730 348.8 736 348.8 L832 353.3 C823 356 821.8 365 822.6 376 C824 410 825.6 440 826 462 C826 474 820 481.2 808 481.2 L740 472 Z" fill="none" stroke="#0e0e0e" stroke-width="3.1" stroke-linejoin="round"/>
<path d="M832 353.3 C840 353.5 845.6 358.6 845.6 365.6 C845.6 372.6 840 377.2 833.6 377.2 C828 377.2 823.6 373.6 822.8 368 L822.4 361 C824 356 827 353.6 832 353.3 Z" fill="url(#pm)" stroke="#0e0e0e" stroke-width="3.2" stroke-linejoin="round"/>
<path d="M826 366 C826 360 830.5 357.5 834.5 358 C839 358.8 840.5 363 839.3 366.2 C838 369.5 834 370 832.3 367.8" fill="none" stroke="#0e0e0e" stroke-width="1.6" stroke-linecap="round"/>
<path d="M717 449.8 L806.5 456.3 C813.5 457 818.3 461.5 818.3 467.5 C818.3 474.8 812.5 480.6 805 480.2 L716 474.6 C709.5 474 705.7 468.5 705.7 462 C705.7 455 710.5 449.5 717 449.8 Z" fill="#fff" stroke="#0e0e0e" stroke-width="3.3" stroke-linejoin="round"/>
<path d="M709 465 L800 470.5 V479 L716 474 Z" fill="url(#pl)"/>
<circle cx="808" cy="467.5" r="9.6" fill="url(#pm)" stroke="#0e0e0e" stroke-width="2.8"/>
<path d="M801.5 466 C802 461 808 459.5 811.3 462.5 C814.5 465.5 813 471 808.6 471.3 C806 471.4 804.6 469.5 805 467.6" fill="none" stroke="#0e0e0e" stroke-width="1.6" stroke-linecap="round"/>
<path d="M717 449.8 L806.5 456.3 C813.5 457 818.3 461.5 818.3 467.5 C818.3 474.8 812.5 480.6 805 480.2 L716 474.6 C709.5 474 705.7 468.5 705.7 462 C705.7 455 710.5 449.5 717 449.8 Z" fill="none" stroke="#0e0e0e" stroke-width="3.3" stroke-linejoin="round"/>
<path d="M738.5 367.4 H745 M750 367.6 H759 M764 367.8 L810 369.2 M744 372.8 L807 374.6 M738.5 377.8 L766 378.6 M771 378.8 L802.5 379.8 M740.5 432.2 L808 435 M757.5 438.3 L807 440.2 M740.5 442.6 L759.5 443.3 M780 444 L808 445" fill="none" stroke="#0e0e0e" stroke-width="1.35"/>
<rect x="713" y="408.5" width="121" height="19.5" fill="#fff"/>
<path d="M137.47 898.98 Q134.75 894.20 132.03 898.98 L102.92 950.22 Q100.20 955.00 105.70 955.00 L163.80 955.00 Q169.30 955.00 166.58 950.22 Z" fill="url(#pl)" stroke="#0e0e0e" stroke-width="4.2" stroke-linejoin="round"/>
<path d="M137.47 898.98 Q134.75 894.20 132.03 898.98 L102.92 950.22 Q100.20 955.00 105.70 955.00 L163.80 955.00 Q169.30 955.00 166.58 950.22 Z" fill="url(#tfade)"/>
<path d="M137.47 898.98 Q134.75 894.20 132.03 898.98 L102.92 950.22 Q100.20 955.00 105.70 955.00 L163.80 955.00 Q169.30 955.00 166.58 950.22 Z" fill="none" stroke="#0e0e0e" stroke-width="4.2" stroke-linejoin="round"/>
<path d="M130.9 913.5 Q134.75 909 138.6 913.5 L137 936 Q134.75 938.6 132.5 936 Z" fill="#0e0e0e"/><circle cx="134.75" cy="944.2" r="3.8" fill="#0e0e0e"/>
<g font-family="'Liberation Sans', sans-serif" fill="#0e0e0e" stroke="#0e0e0e" stroke-linejoin="round" style="opacity:0.999">
<text transform="translate(262.31,96.70) scale(0.9335,1)" font-size="26.45" font-weight="bold" stroke-width="1.78" letter-spacing="2.046">START:</text>
<text transform="translate(369.82,96.80) scale(0.8393,1)" font-size="26.45" font-weight="normal" stroke-width="1.56" letter-spacing="2.332">IABs CONCENTRATE FINANCIAL</text>
<text transform="translate(311.12,124.50) scale(0.8228,1)" font-size="26.45" font-weight="normal" stroke-width="1.56" letter-spacing="2.347">BENEFITS ON PRO–HEALTH SIDE</text>
<text transform="translate(145.68,236.50) scale(0.8263,1)" font-size="24.42" font-weight="normal" stroke-width="1.44" letter-spacing="2.120">POLITICIANS FACE</text>
<text transform="translate(141.08,262.00) scale(0.8283,1)" font-size="24.28" font-weight="normal" stroke-width="1.44" letter-spacing="2.363">NEW CALCULATION</text>
<text transform="translate(649.68,236.50) scale(0.8133,1)" font-size="24.42" font-weight="normal" stroke-width="1.44" letter-spacing="2.277">INVESTORS LOBBY FOR</text>
<text transform="translate(667.78,262.00) scale(0.8347,1)" font-size="24.28" font-weight="normal" stroke-width="1.44" letter-spacing="2.287">TREATY EXPANSION</text>
<text transform="translate(429.46,252.80) scale(0.8770,1)" font-size="19.56" font-weight="normal" stroke-width="1.16" letter-spacing="1.642">IAB BENEFITS &gt;</text>
<text transform="translate(411.27,274.70) scale(0.8292,1)" font-size="19.69" font-weight="normal" stroke-width="1.17" letter-spacing="1.865">OPPOSITION COSTS</text>
<text transform="translate(101.85,350.10) scale(0.8723,1)" font-size="20.91" font-weight="normal" stroke-width="1.24" letter-spacing="2.404">IAB</text>
<text transform="translate(69.69,373.00) scale(0.8460,1)" font-size="20.77" font-weight="normal" stroke-width="1.23" letter-spacing="2.073">BENEFITS</text>
<text transform="translate(107.20,395.80) scale(0.9471,1)" font-size="20.91" font-weight="normal" stroke-width="1.24" letter-spacing="1.822">($)</text>
<text transform="translate(365.09,357.80) scale(0.8348,1)" font-size="20.77" font-weight="normal" stroke-width="1.23" letter-spacing="2.229">CONCENTRATED</text>
<text transform="translate(384.90,381.00) scale(0.8290,1)" font-size="20.91" font-weight="normal" stroke-width="1.24" letter-spacing="2.066">OPPOSITION</text>
<text transform="translate(413.80,403.40) scale(0.8092,1)" font-size="20.91" font-weight="normal" stroke-width="1.24" letter-spacing="2.572">COSTS</text>
<text transform="translate(159.78,488.00) scale(0.8054,1)" font-size="24.42" font-weight="normal" stroke-width="1.44" letter-spacing="2.353">POLICY SUCCESS</text>
<text transform="translate(453.29,542.10) scale(0.8560,1)" font-size="20.50" font-weight="normal" stroke-width="1.22" letter-spacing="2.204">STRENGTHENED</text>
<text transform="translate(453.29,565.30) scale(0.8573,1)" font-size="20.77" font-weight="normal" stroke-width="1.23" letter-spacing="2.000">COALITION</text>
<text transform="translate(199.07,619.50) scale(0.8094,1)" font-size="24.09" font-weight="normal" stroke-width="1.42" letter-spacing="2.510">INCREASED</text>
<text transform="translate(188.41,645.10) scale(0.8602,1)" font-size="23.88" font-weight="normal" stroke-width="1.41" letter-spacing="2.199">IAB FUNDING</text>
<text transform="translate(677.67,578.25) scale(0.8376,1)" font-size="24.01" font-weight="normal" stroke-width="1.42" letter-spacing="2.209">INCREASE THEIR</text>
<text transform="translate(720.17,604.25) scale(0.8068,1)" font-size="24.01" font-weight="normal" stroke-width="1.42" letter-spacing="2.765">RETURNS</text>
<text transform="translate(733.09,402.10) scale(0.8676,1)" font-size="20.77" font-weight="normal" stroke-width="1.23" letter-spacing="2.297">TREATY</text>
<text transform="translate(715.34,425.30) scale(0.8549,1)" font-size="20.64" font-weight="normal" stroke-width="1.22" letter-spacing="2.123">EXPANSION</text>
<text transform="translate(599.86,694.30) scale(0.8514,1)" font-size="23.47" font-weight="normal" stroke-width="1.39" letter-spacing="2.576">DYNAMIC</text>
<text transform="translate(599.85,719.80) scale(0.8240,1)" font-size="23.21" font-weight="normal" stroke-width="1.37" letter-spacing="2.579">REVERSES</text>
<text transform="translate(173.14,804.60) scale(0.8647,1)" font-size="31.85" font-weight="normal" stroke-width="2.1" letter-spacing="2.967">SUPPORTING HEALTH SPENDING BECOMES</text>
<text transform="translate(200.94,838.10) scale(0.8342,1)" font-size="31.85" font-weight="normal" stroke-width="2.1" letter-spacing="4.549">THE</text>
<text transform="translate(275.78,838.10) scale(0.8720,1)" font-size="32.66" font-weight="bold" stroke-width="1.7" letter-spacing="2.409">CONCENTRATED–BENEFIT OPTION</text>
<text transform="translate(180.34,908.90) scale(0.9298,1)" font-size="23.65" font-weight="bold" stroke-width="1.59" letter-spacing="1.738">IMPORTANT NOTE:</text>
<text transform="translate(415.96,908.90) scale(0.8882,1)" font-size="23.47" font-weight="normal" stroke-width="1.39" letter-spacing="1.871">THIS CASCADE IS NOT INEVITABLE. IT</text>
<text transform="translate(180.55,934.50) scale(0.8567,1)" font-size="23.34" font-weight="normal" stroke-width="1.38" letter-spacing="2.014">REQUIRES SUFFICIENT IAB FUNDING TO OVERCOME OPPOSITION.</text>
<text transform="translate(179.75,960.50) scale(0.8783,1)" font-size="23.34" font-weight="normal" stroke-width="1.38" letter-spacing="2.012">ACHIEVABLE WITH CAPITAL &amp; COORDINATION MECHANISM.</text>
</g>
<rect x="849.5" y="1000.5" width="174" height="23" fill="#fff" stroke="#888" stroke-width="1"/>
<text x="860" y="1016.3" font-family="'Liberation Mono', monospace" font-weight="bold" font-size="12.9" fill="#111" style="opacity:0.999" textLength="153" lengthAdjust="spacingAndGlyphs">WarOnDisease.org</text>
</svg>
</body></html>
